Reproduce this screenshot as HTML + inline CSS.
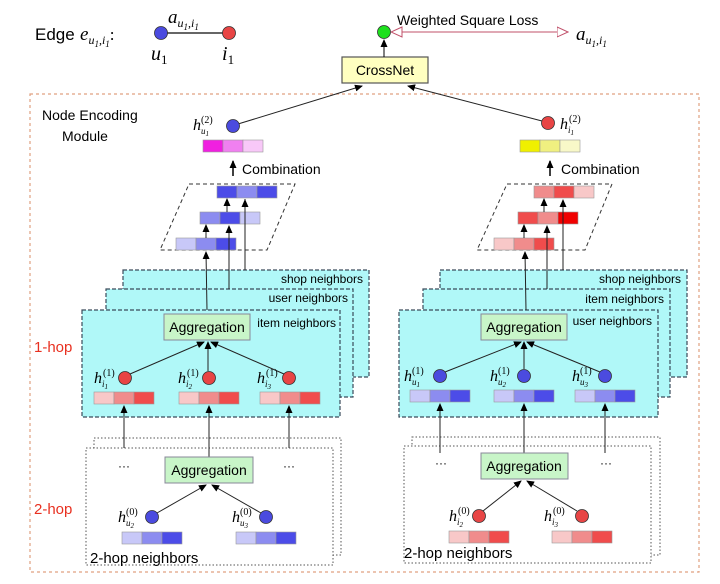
<!DOCTYPE html>
<html><head><meta charset="utf-8"><style>
html,body{margin:0;padding:0;background:#fff}
svg{display:block}
text{font-family:"Liberation Sans",sans-serif}
.m{font-family:"Liberation Serif",serif;font-style:italic}
.st{fill:#b0f8f8;stroke:#3a4a5a;stroke-width:1.2;stroke-dasharray:4,2}
.dt{fill:#fff;stroke:#555;stroke-width:1;stroke-dasharray:1.5,2}
.ag{fill:#c8f5c8;stroke:#889;stroke-width:1}
.ln{stroke:#222;stroke-width:1;fill:none}
.c{stroke:#999;stroke-width:0.6}
</style></head><body>
<svg width="720" height="584" viewBox="0 0 720 584" xmlns="http://www.w3.org/2000/svg">
<defs>
<marker id="ah" markerWidth="8" markerHeight="8" refX="7" refY="4" orient="auto" markerUnits="userSpaceOnUse"><path d="M0,0.5 L8,4 L0,7.5 z" fill="#000"/></marker>
<marker id="oh" markerWidth="12" markerHeight="12" refX="11" refY="6" orient="auto" markerUnits="userSpaceOnUse"><path d="M0,1 L11,6 L0,11 z" fill="#fff" stroke="#c0506a"/></marker>
<marker id="os" markerWidth="12" markerHeight="12" refX="1" refY="6" orient="auto" markerUnits="userSpaceOnUse"><path d="M11,1 L0,6 L11,11 z" fill="#fff" stroke="#c0506a"/></marker>
</defs>

<!-- top edge -->
<text x="35" y="40" font-size="17">Edge</text>
<text x="80" y="40" class="m" font-size="19">e<tspan font-size="12" dy="4">u</tspan><tspan font-size="9" dy="3">1</tspan><tspan font-size="12" dy="-3">,i</tspan><tspan font-size="9" dy="3">1</tspan><tspan font-size="17" dy="-7" font-style="normal">:</tspan></text>
<line x1="161" y1="33" x2="229" y2="33" stroke="#666" stroke-width="2"/>
<circle cx="161" cy="33" r="6.5" fill="#4b4bdf" stroke="#333" stroke-width="0.8"/>
<circle cx="229" cy="33" r="6.5" fill="#e84545" stroke="#333" stroke-width="0.8"/>
<text x="168" y="23" class="m" font-size="19">a<tspan font-size="12" dy="4">u</tspan><tspan font-size="9" dy="3">1</tspan><tspan font-size="12" dy="-3">,i</tspan><tspan font-size="9" dy="3">1</tspan></text>
<text x="151" y="60" class="m" font-size="20">u<tspan font-size="13" dy="4" font-style="normal">1</tspan></text>
<text x="222" y="60" class="m" font-size="20">i<tspan font-size="13" dy="4" font-style="normal">1</tspan></text>

<line x1="392" y1="32" x2="568" y2="32" stroke="#c0506a" stroke-width="1" marker-end="url(#oh)" marker-start="url(#os)"/>
<circle cx="384" cy="32" r="6.5" fill="#1ee01e" stroke="#333" stroke-width="0.8"/>
<text x="397" y="25" font-size="14">Weighted Square Loss</text>
<text x="576" y="40" class="m" font-size="19">a<tspan font-size="12" dy="4">u</tspan><tspan font-size="9" dy="3">1</tspan><tspan font-size="12" dy="-3">,i</tspan><tspan font-size="9" dy="3">1</tspan></text>

<rect x="342" y="57" width="86" height="26" fill="#ffffc0" stroke="#555" stroke-width="1.2"/>
<text x="385" y="75" font-size="14" text-anchor="middle">CrossNet</text>
<line x1="384" y1="57" x2="384" y2="40" stroke="#000" marker-end="url(#ah)"/>

<!-- orange module -->
<rect x="30" y="94" width="669" height="478" fill="none" stroke="#e0a080" stroke-width="1.2" stroke-dasharray="3,3"/>
<text x="42" y="120" font-size="14">Node  Encoding</text>
<text x="62" y="141" font-size="14">Module</text>
<text x="34" y="352" font-size="15" fill="#e83020">1-hop</text>
<text x="34" y="514" font-size="15" fill="#e83020">2-hop</text>

<!-- h2 nodes to crossnet -->
<line x1="238" y1="124" x2="362" y2="86" class="ln" stroke="#444" marker-end="url(#ah)"/>
<line x1="542" y1="121" x2="408" y2="86" class="ln" stroke="#444" marker-end="url(#ah)"/>
<circle cx="233" cy="126" r="6.5" fill="#4b4bdf" stroke="#333" stroke-width="0.8"/>
<circle cx="548" cy="123" r="6.5" fill="#e84545" stroke="#333" stroke-width="0.8"/>
<text x="193" y="130" class="m" font-size="16">h<tspan font-size="9" dy="4">u</tspan><tspan font-size="7" dy="2">1</tspan><tspan font-size="10" dx="-8" dy="-13" font-style="normal">(2)</tspan></text>
<text x="560" y="129" class="m" font-size="16">h<tspan font-size="9" dy="4">i</tspan><tspan font-size="7" dy="2">1</tspan><tspan font-size="10" dx="-5" dy="-13" font-style="normal">(2)</tspan></text>

<!-- combined vectors -->
<g class="c"><rect x="203" y="140" width="20" height="12" fill="#f020e0"/><rect x="223" y="140" width="20" height="12" fill="#f080f0"/><rect x="243" y="140" width="20" height="12" fill="#f8c8f8"/></g>
<g class="c"><rect x="520" y="140" width="20" height="12" fill="#f0f000"/><rect x="540" y="140" width="20" height="12" fill="#f0f080"/><rect x="560" y="140" width="20" height="12" fill="#f8f8c8"/></g>
<line x1="233" y1="176" x2="233" y2="161" stroke="#000" stroke-width="1.5" marker-end="url(#ah)"/>
<text x="242" y="174" font-size="14">Combination</text>
<line x1="550" y1="176" x2="550" y2="161" stroke="#000" stroke-width="1.5" marker-end="url(#ah)"/>
<text x="561" y="174" font-size="14">Combination</text>

<!-- parallelograms -->
<polygon points="189,184 295,184 267,250 160,250" fill="none" stroke="#333" stroke-dasharray="4,3"/>
<polygon points="507,184 612,184 585,250 477,250" fill="none" stroke="#333" stroke-dasharray="4,3"/>
<g class="c">
<rect x="217" y="186" width="20" height="12" fill="#4c4ce8"/><rect x="237" y="186" width="20" height="12" fill="#8c8cf0"/><rect x="257" y="186" width="20" height="12" fill="#4c4ce8"/>
<rect x="200" y="212" width="20" height="12" fill="#8c8cf0"/><rect x="220" y="212" width="20" height="12" fill="#4c4ce8"/><rect x="240" y="212" width="20" height="12" fill="#c8c8f8"/>
<rect x="176" y="238" width="20" height="12" fill="#c8c8f8"/><rect x="196" y="238" width="20" height="12" fill="#8c8cf0"/><rect x="216" y="238" width="20" height="12" fill="#4c4ce8"/>
<rect x="534" y="186" width="20" height="12" fill="#f08c8c"/><rect x="554" y="186" width="20" height="12" fill="#f04c4c"/><rect x="574" y="186" width="20" height="12" fill="#f8c8c8"/>
<rect x="518" y="212" width="20" height="12" fill="#f04c4c"/><rect x="538" y="212" width="20" height="12" fill="#f08c8c"/><rect x="558" y="212" width="20" height="12" fill="#f00000"/>
<rect x="494" y="238" width="20" height="12" fill="#f8c8c8"/><rect x="514" y="238" width="20" height="12" fill="#f08c8c"/><rect x="534" y="238" width="20" height="12" fill="#f04c4c"/>
</g>
<line x1="227" y1="212" x2="227" y2="199" class="ln" marker-end="url(#ah)"/>
<line x1="245" y1="270" x2="245" y2="199" class="ln"/>
<line x1="206" y1="238" x2="206" y2="225" class="ln" marker-end="url(#ah)"/>
<line x1="544" y1="212" x2="544" y2="199" class="ln" marker-end="url(#ah)"/>
<line x1="524" y1="238" x2="524" y2="225" class="ln" marker-end="url(#ah)"/>

<!-- left stacked boxes -->
<rect x="123" y="270" width="246" height="107" class="st"/>
<rect x="106" y="289" width="247" height="108" class="st"/>
<rect x="82" y="310" width="258" height="107" class="st"/>
<text x="363" y="283" font-size="12" text-anchor="end">shop neighbors</text>
<text x="348" y="302" font-size="12" text-anchor="end">user neighbors</text>
<text x="336" y="327" font-size="12" text-anchor="end">item neighbors</text>
<line x1="207" y1="310" x2="206" y2="252" class="ln" marker-end="url(#ah)"/>
<line x1="229" y1="289" x2="229" y2="226" class="ln" marker-end="url(#ah)"/>
<line x1="245" y1="270" x2="245" y2="200" class="ln" marker-end="url(#ah)"/>

<!-- right stacked boxes -->
<rect x="440" y="270" width="247" height="107" class="st"/>
<rect x="423" y="289" width="247" height="108" class="st"/>
<rect x="399" y="310" width="259" height="107" class="st"/>
<text x="681" y="283" font-size="12" text-anchor="end">shop neighbors</text>
<text x="664" y="303" font-size="12" text-anchor="end">item neighbors</text>
<text x="652" y="325" font-size="12" text-anchor="end">user neighbors</text>
<line x1="526" y1="310" x2="525" y2="252" class="ln" marker-end="url(#ah)"/>
<line x1="547" y1="289" x2="547" y2="226" class="ln" marker-end="url(#ah)"/>
<line x1="563" y1="270" x2="563" y2="200" class="ln" marker-end="url(#ah)"/>

<!-- left 1-hop -->
<rect x="164" y="314" width="86" height="26" class="ag"/>
<text x="207" y="332" font-size="14" text-anchor="middle">Aggregation</text>
<line x1="130" y1="374" x2="204" y2="342" class="ln" marker-end="url(#ah)"/>
<line x1="208" y1="371" x2="208" y2="342" class="ln" marker-end="url(#ah)"/>
<line x1="284" y1="374" x2="211" y2="342" class="ln" marker-end="url(#ah)"/>
<g stroke="#333" stroke-width="0.8" fill="#e84545"><circle cx="125" cy="378" r="6.5"/><circle cx="209" cy="378" r="6.5"/><circle cx="289" cy="378" r="6.5"/></g>
<text x="94" y="383" class="m" font-size="16">h<tspan font-size="9" dy="4">i</tspan><tspan font-size="7" dy="2">1</tspan><tspan font-size="10" dx="-5" dy="-13" font-style="normal">(1)</tspan></text>
<text x="178" y="383" class="m" font-size="16">h<tspan font-size="9" dy="4">i</tspan><tspan font-size="7" dy="2">2</tspan><tspan font-size="10" dx="-5" dy="-13" font-style="normal">(1)</tspan></text>
<text x="257" y="383" class="m" font-size="16">h<tspan font-size="9" dy="4">i</tspan><tspan font-size="7" dy="2">3</tspan><tspan font-size="10" dx="-5" dy="-13" font-style="normal">(1)</tspan></text>
<g class="c">
<rect x="94" y="392" width="20" height="12" fill="#f8c8c8"/><rect x="114" y="392" width="20" height="12" fill="#f08c8c"/><rect x="134" y="392" width="20" height="12" fill="#f04c4c"/>
<rect x="179" y="392" width="20" height="12" fill="#f8c8c8"/><rect x="199" y="392" width="20" height="12" fill="#f08c8c"/><rect x="219" y="392" width="20" height="12" fill="#f04c4c"/>
<rect x="260" y="392" width="20" height="12" fill="#f8c8c8"/><rect x="280" y="392" width="20" height="12" fill="#f08c8c"/><rect x="300" y="392" width="20" height="12" fill="#f04c4c"/>
</g>

<!-- right 1-hop -->
<rect x="481" y="314" width="86" height="26" class="ag"/>
<text x="524" y="332" font-size="14" text-anchor="middle">Aggregation</text>
<line x1="445" y1="372" x2="521" y2="342" class="ln" marker-end="url(#ah)"/>
<line x1="524" y1="369" x2="524" y2="342" class="ln" marker-end="url(#ah)"/>
<line x1="600" y1="372" x2="527" y2="342" class="ln" marker-end="url(#ah)"/>
<g stroke="#333" stroke-width="0.8" fill="#4b4bdf"><circle cx="440" cy="376" r="6.5"/><circle cx="524" cy="376" r="6.5"/><circle cx="605" cy="376" r="6.5"/></g>
<text x="404" y="381" class="m" font-size="16">h<tspan font-size="9" dy="4">u</tspan><tspan font-size="7" dy="2">1</tspan><tspan font-size="10" dx="-8" dy="-13" font-style="normal">(1)</tspan></text>
<text x="490" y="381" class="m" font-size="16">h<tspan font-size="9" dy="4">u</tspan><tspan font-size="7" dy="2">2</tspan><tspan font-size="10" dx="-8" dy="-13" font-style="normal">(1)</tspan></text>
<text x="572" y="381" class="m" font-size="16">h<tspan font-size="9" dy="4">u</tspan><tspan font-size="7" dy="2">3</tspan><tspan font-size="10" dx="-8" dy="-13" font-style="normal">(1)</tspan></text>
<g class="c">
<rect x="410" y="390" width="20" height="12" fill="#c8c8f8"/><rect x="430" y="390" width="20" height="12" fill="#8c8cf0"/><rect x="450" y="390" width="20" height="12" fill="#4c4ce8"/>
<rect x="494" y="390" width="20" height="12" fill="#c8c8f8"/><rect x="514" y="390" width="20" height="12" fill="#8c8cf0"/><rect x="534" y="390" width="20" height="12" fill="#4c4ce8"/>
<rect x="575" y="390" width="20" height="12" fill="#c8c8f8"/><rect x="595" y="390" width="20" height="12" fill="#8c8cf0"/><rect x="615" y="390" width="20" height="12" fill="#4c4ce8"/>
</g>

<!-- left 2-hop -->
<rect x="94" y="438" width="247" height="117" class="dt"/>
<rect x="86" y="448" width="247" height="117" class="dt"/>
<line x1="124" y1="448" x2="124" y2="406" class="ln" marker-end="url(#ah)"/>
<line x1="209" y1="457" x2="209" y2="406" class="ln" marker-end="url(#ah)"/>
<line x1="289" y1="448" x2="289" y2="406" class="ln" marker-end="url(#ah)"/>
<text x="124" y="470" font-size="12" text-anchor="middle">···</text>
<text x="289" y="470" font-size="12" text-anchor="middle">···</text>
<rect x="165" y="457" width="88" height="26" class="ag"/>
<text x="209" y="475" font-size="14" text-anchor="middle">Aggregation</text>
<line x1="157" y1="513" x2="206" y2="485" class="ln" marker-end="url(#ah)"/>
<line x1="261" y1="513" x2="212" y2="485" class="ln" marker-end="url(#ah)"/>
<g stroke="#333" stroke-width="0.8" fill="#4b4bdf"><circle cx="152" cy="517" r="6.5"/><circle cx="266" cy="517" r="6.5"/></g>
<text x="118" y="522" class="m" font-size="16">h<tspan font-size="9" dy="4">u</tspan><tspan font-size="7" dy="2">2</tspan><tspan font-size="10" dx="-8" dy="-13" font-style="normal">(0)</tspan></text>
<text x="232" y="522" class="m" font-size="16">h<tspan font-size="9" dy="4">u</tspan><tspan font-size="7" dy="2">3</tspan><tspan font-size="10" dx="-8" dy="-13" font-style="normal">(0)</tspan></text>
<g class="c">
<rect x="122" y="532" width="20" height="12" fill="#c8c8f8"/><rect x="142" y="532" width="20" height="12" fill="#8c8cf0"/><rect x="162" y="532" width="20" height="12" fill="#4c4ce8"/>
<rect x="236" y="532" width="20" height="12" fill="#c8c8f8"/><rect x="256" y="532" width="20" height="12" fill="#8c8cf0"/><rect x="276" y="532" width="20" height="12" fill="#4c4ce8"/>
</g>
<text x="90" y="563" font-size="15">2-hop neighbors</text>

<!-- right 2-hop -->
<rect x="412" y="437" width="248" height="118" class="dt"/>
<rect x="404" y="446" width="247" height="117" class="dt"/>
<line x1="440" y1="453" x2="440" y2="404" class="ln" marker-end="url(#ah)"/>
<line x1="524" y1="453" x2="524" y2="404" class="ln" marker-end="url(#ah)"/>
<line x1="605" y1="453" x2="605" y2="404" class="ln" marker-end="url(#ah)"/>
<text x="441" y="467" font-size="12" text-anchor="middle">···</text>
<text x="606" y="467" font-size="12" text-anchor="middle">···</text>
<rect x="481" y="453" width="87" height="26" class="ag"/>
<text x="524" y="471" font-size="14" text-anchor="middle">Aggregation</text>
<line x1="483" y1="511" x2="521" y2="481" class="ln" marker-end="url(#ah)"/>
<line x1="577" y1="511" x2="527" y2="481" class="ln" marker-end="url(#ah)"/>
<g stroke="#333" stroke-width="0.8" fill="#e84545"><circle cx="479" cy="516" r="6.5"/><circle cx="582" cy="516" r="6.5"/></g>
<text x="449" y="521" class="m" font-size="16">h<tspan font-size="9" dy="4">i</tspan><tspan font-size="7" dy="2">2</tspan><tspan font-size="10" dx="-5" dy="-13" font-style="normal">(0)</tspan></text>
<text x="544" y="521" class="m" font-size="16">h<tspan font-size="9" dy="4">i</tspan><tspan font-size="7" dy="2">3</tspan><tspan font-size="10" dx="-5" dy="-13" font-style="normal">(0)</tspan></text>
<g class="c">
<rect x="449" y="531" width="20" height="12" fill="#f8c8c8"/><rect x="469" y="531" width="20" height="12" fill="#f08c8c"/><rect x="489" y="531" width="20" height="12" fill="#f04c4c"/>
<rect x="552" y="531" width="20" height="12" fill="#f8c8c8"/><rect x="572" y="531" width="20" height="12" fill="#f08c8c"/><rect x="592" y="531" width="20" height="12" fill="#f04c4c"/>
</g>
<text x="404" y="558" font-size="15">2-hop neighbors</text>
</svg>
</body></html>
